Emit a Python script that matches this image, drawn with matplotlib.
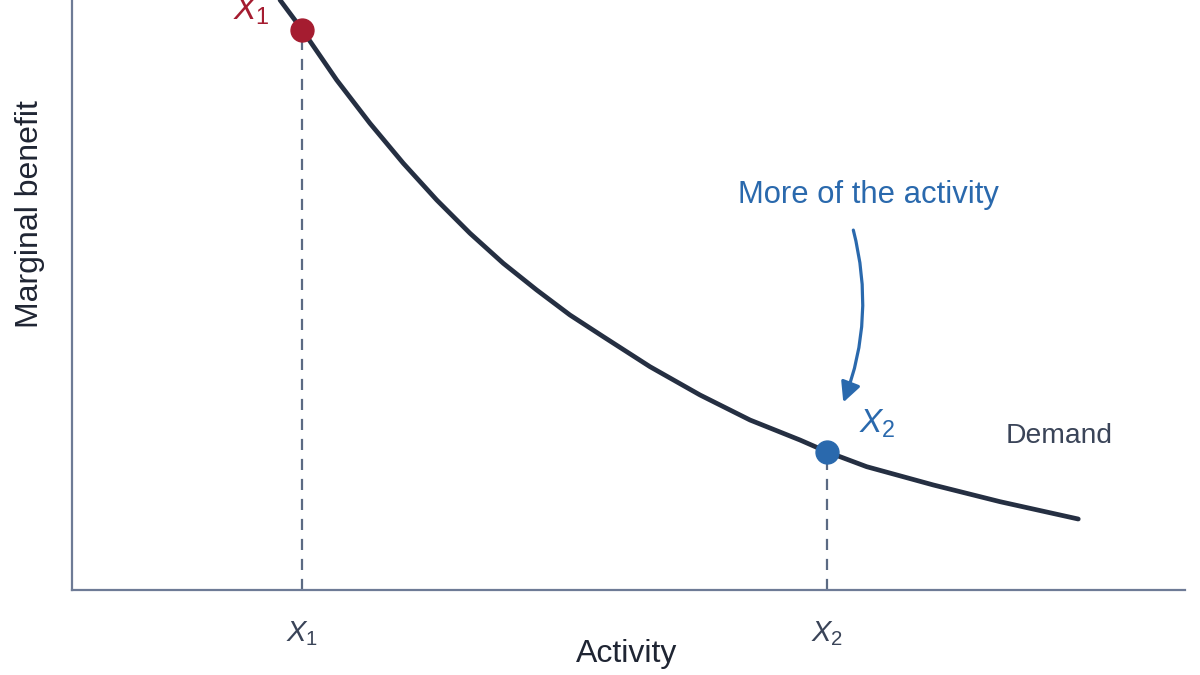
import matplotlib
matplotlib.use("Agg")
import matplotlib.pyplot as plt
from matplotlib.patches import FancyArrowPatch

plt.rcParams['font.family'] = ['Liberation Sans', 'DejaVu Sans']
plt.rcParams['mathtext.fontset'] = 'custom'
plt.rcParams['mathtext.rm'] = 'Liberation Sans'
plt.rcParams['mathtext.it'] = 'Liberation Sans:italic'

# Demand curve
demand_x = [1.869, 2.069, 2.378, 2.677, 2.977, 3.277, 3.576, 3.875, 4.175, 4.474,
            4.774, 5.193, 5.643, 6.092, 6.541, 6.781, 7.140, 7.739, 8.338, 9.041]
demand_y = [10.0, 9.492, 8.644, 7.910, 7.232, 6.610, 6.046, 5.537, 5.085, 4.661,
            4.293, 3.785, 3.305, 2.881, 2.542, 2.344, 2.090, 1.780, 1.497, 1.203]

x1_val, y1_val = 2.069, 9.492
x2_val, y2_val = 6.781, 2.344
tick_labels = [r'$X_1$', r'$X_2$']

navy = '#252f42'
red = '#a51c30'
blue = '#2a69ad'
spine_c = '#6e7b96'
dash_c = '#5b6a83'

fig = plt.figure(figsize=(12, 6.75), dpi=100)
ax = fig.add_axes([72/1200, 85/675, 1113/1200, 590/675])
ax.set_xlim(0, 10)
ax.set_ylim(0, 10)
for s in ['top', 'right']:
    ax.spines[s].set_visible(False)
for s in ['left', 'bottom']:
    ax.spines[s].set_color(spine_c)
    ax.spines[s].set_linewidth(1.6)

ax.set_yticks([])
ax.set_xticks([x1_val, x2_val])
ax.set_xticklabels(tick_labels, fontsize=21, color='#3a4458')
ax.tick_params(axis='x', length=0, pad=21)

# dashed guides
for xv, yv in [(x1_val, y1_val), (x2_val, y2_val)]:
    ax.plot([xv, xv], [0, yv], color=dash_c, lw=1.6, ls=(0, (5, 4)), zorder=2)

ax.plot(demand_x, demand_y, color=navy, lw=3.4, solid_capstyle='round',
        solid_joinstyle='round', zorder=3, clip_on=False)

ax.plot([x1_val], [y1_val], 'o', color=red, ms=16.5, zorder=4, clip_on=False)
ax.plot([x2_val], [y2_val], 'o', color=blue, ms=16.5, zorder=4)

ax.text(1.61, 9.55, r'$X_1$', color=red, fontsize=24, ha='center', va='bottom')
ax.text(7.24, 2.55, r'$X_2$', color=blue, fontsize=24, ha='center', va='bottom')
ax.text(8.87, 2.61, 'Demand', color='#3a4458', fontsize=20.3, ha='center', va='center')
ax.text(7.16, 6.70, 'More of the activity', color=blue, fontsize=22.3, ha='center', va='center')

arrow = FancyArrowPatch((7.02, 6.1), (6.93, 3.18), connectionstyle='arc3,rad=-0.16',
                        arrowstyle='-|>,head_length=12,head_width=6', color=blue,
                        lw=2.3, shrinkA=0, shrinkB=0, zorder=5)
ax.add_patch(arrow)

ax.set_xlabel('Activity', fontsize=23, color='#1f2533')
ax.xaxis.set_label_coords(0.4987, -0.083)
ax.set_ylabel('Marginal benefit', fontsize=23, color='#1f2533')
ax.yaxis.set_label_coords(-0.0243, 0.637)

fig.savefig('out.png', dpi=100)
